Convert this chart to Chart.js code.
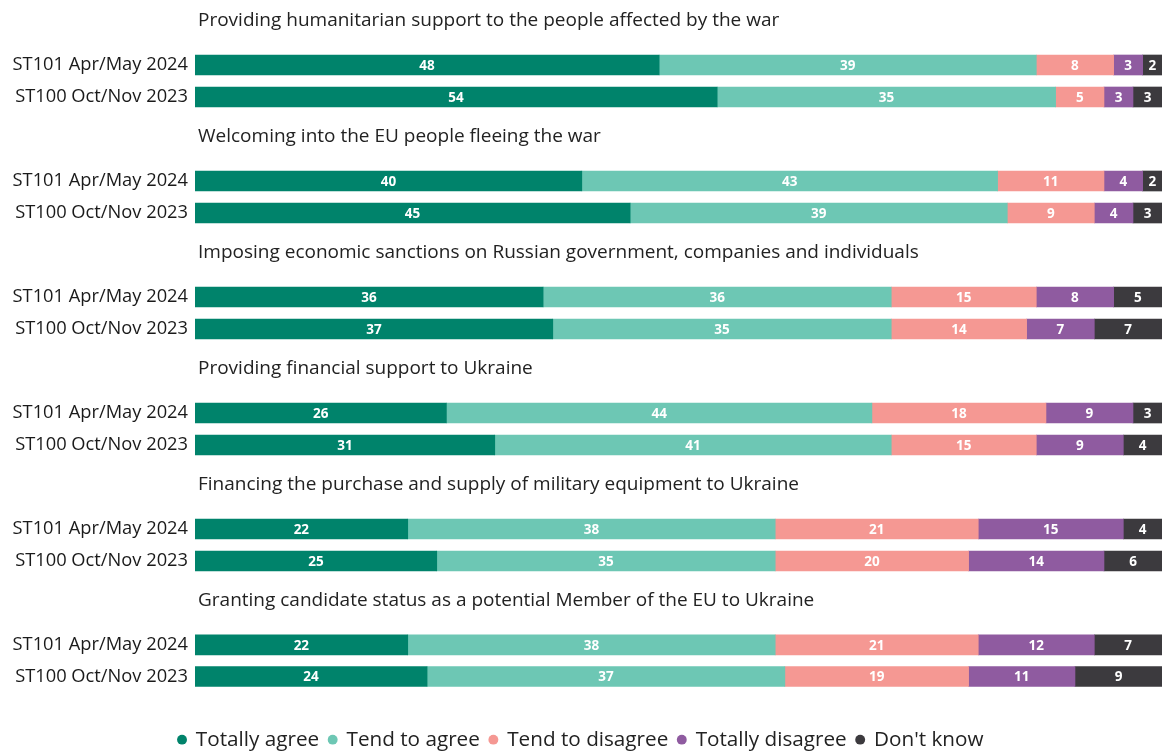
<!DOCTYPE html>
<html>
<head>
<meta charset="utf-8">
<title>Support for EU measures on the war in Ukraine</title>
<script src="https://cdn.jsdelivr.net/npm/chart.js@4.4.1/dist/chart.umd.min.js"></script>
<style>
    html, body { margin: 0; padding: 0; background: #fff; overflow: hidden; }
    .block { position: relative; width: 1162px; height: 116px; }
    .block.last { height: 183px; }
</style>
</head>
<body>
<div id="charts"></div>
<script>
// Survey questions (one small chart each)
const questions = [
    'Providing humanitarian support to the people affected by the war',
    'Welcoming into the EU people fleeing the war',
    'Imposing economic sanctions on Russian government, companies and individuals',
    'Providing financial support to Ukraine',
    'Financing the purchase and supply of military equipment to Ukraine',
    'Granting candidate status as a potential Member of the EU to Ukraine'
];
const waves = ['ST101 Apr/May 2024', 'ST100 Oct/Nov 2023'];

// Values per question, two waves each (%)
const totallyAgree    = [48, 54, 40, 45, 36, 37, 26, 31, 22, 25, 22, 24];
const tendToAgree     = [39, 35, 43, 39, 36, 35, 44, 41, 38, 35, 38, 37];
const tendToDisagree  = [8, 5, 11, 9, 15, 14, 18, 15, 21, 20, 21, 19];
const totallyDisagree = [3, 3, 4, 4, 8, 7, 9, 9, 15, 14, 12, 11];
const dontKnow        = [2, 3, 2, 3, 5, 7, 3, 4, 4, 6, 7, 9];

const seriesNames = ['Totally agree', 'Tend to agree', 'Tend to disagree', 'Totally disagree', "Don't know"];
const seriesValues = [totallyAgree, tendToAgree, tendToDisagree, totallyDisagree, dontKnow];
const seriesColors = ['#00836b', '#6dc7b4', '#f59893', '#8f5ba0', '#3c3a3e'];

const fontFamily = '"Open Sans", sans-serif';

// Draw the value in the middle of each bar segment
const barValues = {
    id: 'barValues',
    afterLayout(chart) {
        // question title sits a little in from the bars
        if (chart.titleBlock) chart.titleBlock.left += 3;
    },
    afterDatasetsDraw(chart) {
        const ctx = chart.ctx;
        ctx.save();
        ctx.font = 'bold 13.5px ' + fontFamily;
        ctx.fillStyle = '#ffffff';
        ctx.textAlign = 'center';
        ctx.textBaseline = 'middle';
        chart.data.datasets.forEach((ds, i) => {
            chart.getDatasetMeta(i).data.forEach((bar, j) => {
                const { x, y, base } = bar.getProps(['x', 'y', 'base'], true);
                ctx.fillText(ds.data[j], (x + base) / 2, y + 1);
            });
        });
        ctx.restore();
    }
};

// Legend only under the last chart
const legendOptions = {
    display: true,
    position: 'bottom',
    title: { display: true, text: '', font: { size: 12 }, padding: { top: 6, bottom: 6.6 } },
    labels: {
        usePointStyle: true,
        pointStyle: 'circle',
        boxWidth: 7,
        boxHeight: 7,
        padding: 10,
        color: '#222222',
        font: { family: fontFamily, size: 20.7 }
    }
};

function buildChart(question, k) {
    const isLast = k === questions.length - 1;
    const block = document.createElement('div');
    block.className = 'block' + (isLast ? ' last' : '');
    const canvas = document.createElement('canvas');
    block.appendChild(canvas);
    document.getElementById('charts').appendChild(block);

    new Chart(canvas, {
        type: 'bar',
        data: {
            labels: waves,
            datasets: seriesNames.map((name, s) => ({
                label: name,
                data: seriesValues[s].slice(k * 2, k * 2 + 2),
                backgroundColor: seriesColors[s],
                barThickness: 20
            }))
        },
        options: {
            indexAxis: 'y',
            responsive: true,
            maintainAspectRatio: false,
            animation: false,
            layout: { padding: { top: 0, right: 0, bottom: 3, left: 0 } },
            scales: {
                x: { stacked: true, min: 0, max: 100, display: false },
                y: {
                    stacked: true,
                    grid: { display: false, drawTicks: false },
                    border: { display: false },
                    ticks: { color: '#1a1a1a', padding: 7, autoSkip: false, font: { family: fontFamily, size: 18.3 } },
                    afterFit(scale) {
                        // fixed label column, no extra room for label overflow
                        scale.width = 195;
                        scale.paddingTop = 0;
                        scale.paddingBottom = 0;
                    }
                }
            },
            plugins: {
                title: {
                    display: true,
                    text: question,
                    align: 'start',
                    fullSize: false,
                    color: '#222222',
                    font: { family: fontFamily, size: 19, weight: 'normal' },
                    padding: { top: 9, bottom: 17.2 }
                },
                legend: isLast ? legendOptions : { display: false },
                tooltip: { enabled: false }
            }
        },
        plugins: [barValues]
    });
}

document.addEventListener('DOMContentLoaded', function() {
    questions.forEach(buildChart);
});
</script>
</body>
</html>
